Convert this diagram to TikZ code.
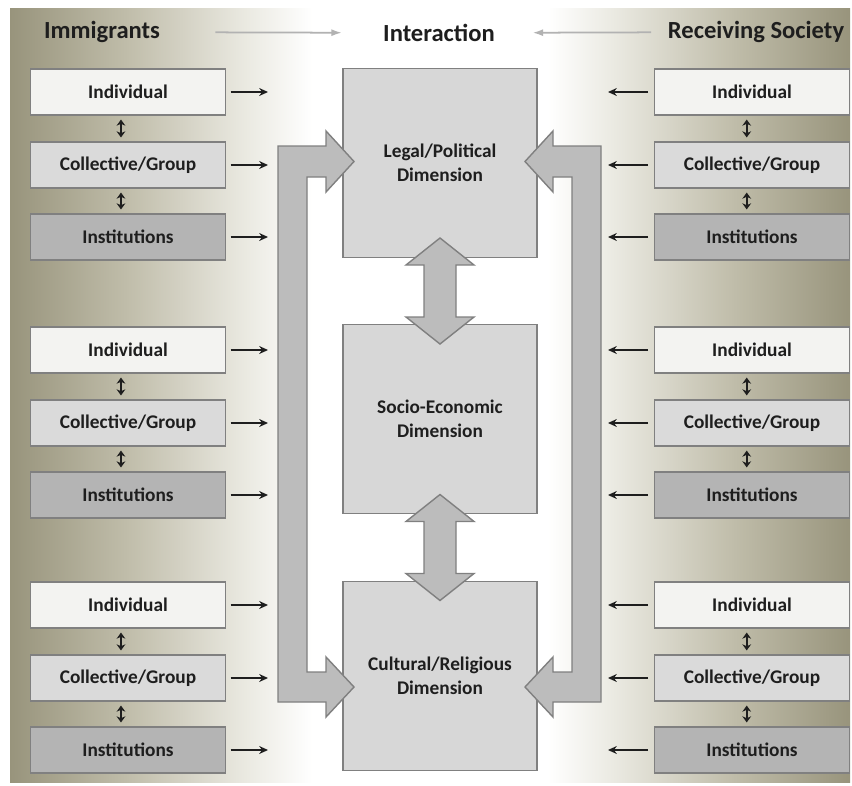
\documentclass[tikz,border=0pt]{standalone}
\usepackage{fontspec}
\setmainfont{Carlito}
\usepackage{xcolor}
\usetikzlibrary{arrows.meta,calc}

\definecolor{bgdark}{RGB}{152,148,124}
\definecolor{bgmid}{RGB}{192,189,170}
\definecolor{bglight}{RGB}{234,233,225}
\definecolor{indivfill}{RGB}{243,243,241}
\definecolor{groupfill}{RGB}{218,218,218}
\definecolor{instfill}{RGB}{180,180,180}
\definecolor{dimfill}{RGB}{215,215,215}
\definecolor{bigfill}{RGB}{188,188,188}
\definecolor{edgegray}{RGB}{128,128,128}
\definecolor{inkgray}{RGB}{30,30,30}

\pgfdeclarehorizontalshading{bgshade}{100bp}{color(0bp)=(bgdark); color(25bp)=(bgdark); color(32bp)=(bgmid); color(39bp)=(bglight); color(43bp)=(white); color(57bp)=(white); color(61bp)=(bglight); color(68bp)=(bgmid); color(75bp)=(bgdark); color(100bp)=(bgdark)}

\begin{document}
\begin{tikzpicture}[x=0.02cm, y=-0.02cm,
	box/.style={draw=edgegray, line width=0.6pt, minimum width=3.9cm, minimum height=0.92cm, inner sep=0pt, text=inkgray, font=\fontsize{11}{13}\selectfont\bfseries},
	indiv/.style={box, fill=indivfill},
	group/.style={box, fill=groupfill},
	inst/.style={box, fill=instfill},
	dim/.style={box, fill=dimfill, minimum width=3.88cm, minimum height=3.78cm, align=center, font=\fontsize{11}{13.5}\selectfont\bfseries},
	title/.style={text=inkgray, font=\fontsize{14}{16}\selectfont\bfseries},
	flow/.style={-{Stealth[length=5pt,width=4.5pt]}, line width=0.9pt, draw=inkgray},
	link/.style={{Stealth[length=3.5pt,width=5pt]}-{Stealth[length=3.5pt,width=5pt]}, line width=1pt, draw=inkgray, shorten <=2.3pt, shorten >=2.3pt},
	titlearrow/.style={-{Latex[length=6pt,width=4pt]}, draw=gray!60, line width=1pt},
	bigarrow/.style={draw=edgegray, fill=bigfill, line width=0.8pt, line join=miter}]
	\useasboundingbox (0,0) rectangle (852,785);
	\shade[shading=bgshade] (10,8) rectangle (850,782);

	% headings
	\node[title] (immig) at (102,32) {Immigrants};
	\node[title] (inter) at (439,33) {Interaction};
	\node[title] (recv) at (756,32) {Receiving Society};
	\draw[titlearrow, shorten <=28pt, shorten >=20pt] (immig) -- (inter);
	\draw[titlearrow, shorten <=6pt, shorten >=18pt] (recv) -- (inter);

	% actor levels on both sides
	\coordinate (lend) at (268,0);
	\coordinate (rend) at (608,0);
	\foreach \g/\y in {1/92, 2/350, 3/605} {
		\node[indiv] (li\g) at (128,\y) {Individual};
		\node[group] (lc\g) at (128,\y+73) {Collective/Group};
		\node[inst] (ls\g) at (128,\y+145) {Institutions};
		\node[indiv] (ri\g) at (752,\y) {Individual};
		\node[group] (rc\g) at (752,\y+73) {Collective/Group};
		\node[inst] (rs\g) at (752,\y+145) {Institutions};
		\foreach \n in {li,lc,ls}
			\draw[flow, shorten <=2.6pt] (\n\g.east) -- (\n\g.east -| lend);
		\foreach \n in {ri,rc,rs}
			\draw[flow, shorten <=3.4pt] (\n\g.west) -- (\n\g.west -| rend);
		\draw[link] ([xshift=-4pt]li\g.south) -- ([xshift=-4pt]lc\g.north);
		\draw[link] ([xshift=-4pt]lc\g.south) -- ([xshift=-4pt]ls\g.north);
		\draw[link] ([xshift=-3pt]ri\g.south) -- ([xshift=-3pt]rc\g.north);
		\draw[link] ([xshift=-3pt]rc\g.south) -- ([xshift=-3pt]rs\g.north);
	}

	% dimensions
	\node[dim] (legal) at (440,163) {Legal/Political\\Dimension};
	\node[dim] (socio) at (440,419) {Socio-Economic\\Dimension};
	\node[dim] (cult) at (440,676) {Cultural/Religious\\Dimension};

	% double arrows between dimensions
	\path ($(legal.south)!.5!(socio.north)$) coordinate (m1);
	\path ($(socio.south)!.5!(cult.north)$) coordinate (m2);
	\foreach \m in {m1,m2}
		\draw[bigarrow] (\m) ++(0,-53) -- ++(34,27) -- ++(-18,0) -- ++(0,52) -- ++(18,0) -- ++(-34,27) -- ++(-34,-27) -- ++(18,0) -- ++(0,-52) -- ++(-18,0) -- cycle;

	% bent arrows
	\draw[bigarrow] (278,146) -- (326,146) -- (326,131) -- (354,161.5) -- (326,192) -- (326,177) -- (307,177) -- (307,672) -- (326,672) -- (326,657) -- (354,687) -- (326,717) -- (326,702) -- (278,702) -- cycle;
	\draw[bigarrow] (601,146) -- (553,146) -- (553,131) -- (525,161.5) -- (553,192) -- (553,177) -- (572,177) -- (572,672) -- (553,672) -- (553,657) -- (525,687) -- (553,717) -- (553,702) -- (601,702) -- cycle;
\end{tikzpicture}
\end{document}
